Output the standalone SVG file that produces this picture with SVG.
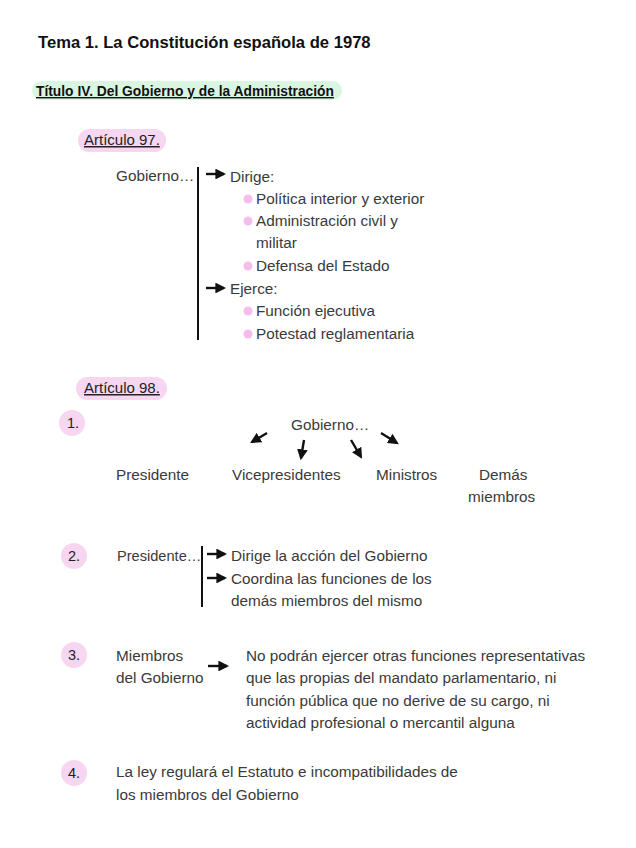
<svg xmlns="http://www.w3.org/2000/svg" width="636" height="848" viewBox="0 0 636 848">
<defs>
<marker id="ah" viewBox="0 0 10 10" refX="8" refY="5" markerWidth="4.5" markerHeight="4.5" orient="auto" markerUnits="strokeWidth">
<path d="M0,0 L10,5 L0,10 z" fill="#111"/>
</marker>
<style>
text{font-family:"Liberation Sans",Arial,sans-serif;fill:#3a3a3a;font-size:15.3px}
.title{font-weight:bold;font-size:16.6px;fill:#111}
.sub{font-weight:bold;font-size:13.8px;fill:#111;text-decoration:underline}
.art{font-size:15px;fill:#222;text-decoration:underline}
.num{font-size:14.5px;fill:#222}
.pill{fill:#f7d6f2}
.gpill{fill:#d9f6e1}
.bul{fill:#f4bdec}
.ar{stroke:#111;stroke-width:2.4;fill:none;marker-end:url(#ah)}
.vl{stroke:#111;stroke-width:2}
</style>
</defs>
<rect width="636" height="848" fill="#fff"/>

<g id="title"><text class="title" x="38" y="48">Tema 1. La Constitución española de 1978</text></g>

<g id="titulo4">
<rect class="gpill" x="32" y="81" width="310" height="19" rx="9.5"/>
<text class="sub" x="36" y="96">Título IV. Del Gobierno y de la Administración</text>
</g>

<g id="art97">
<rect class="pill" x="78" y="129" width="88" height="23" rx="11.5"/>
<text class="art" x="84" y="145">Artículo 97.</text>
</g>

<g id="gob97"><text x="116" y="181">Gobierno…</text></g>

<g id="list97">
<text x="230" y="182">Dirige:</text>
<circle class="bul" cx="248" cy="199" r="4.5"/>
<text x="256" y="204">Política interior y exterior</text>
<circle class="bul" cx="248" cy="221" r="4.5"/>
<text x="256" y="226">Administración civil y</text>
<text x="256" y="248">militar</text>
<circle class="bul" cx="248" cy="266" r="4.5"/>
<text x="256" y="271">Defensa del Estado</text>
<text x="230" y="294">Ejerce:</text>
<circle class="bul" cx="248" cy="311" r="4.5"/>
<text x="256" y="316">Función ejecutiva</text>
<circle class="bul" cx="248" cy="334" r="4.5"/>
<text x="256" y="339">Potestad reglamentaria</text>
</g>

<g id="art98">
<rect class="pill" x="76" y="377" width="91" height="23" rx="11.5"/>
<text class="art" x="84" y="393">Artículo 98.</text>
</g>

<g id="n1"><ellipse class="pill" cx="72" cy="423" rx="13" ry="13"/><text class="num" x="67" y="428">1.</text></g>
<g id="gob98"><text x="291" y="430">Gobierno…</text></g>
<g id="presidente1"><text x="116" y="480">Presidente</text></g>
<g id="vice"><text x="232" y="480">Vicepresidentes</text></g>
<g id="ministros"><text x="376" y="480">Ministros</text></g>
<g id="demas"><text x="479" y="480">Demás</text><text x="468" y="502">miembros</text></g>

<g id="n2"><ellipse class="pill" cx="74" cy="556" rx="13" ry="13"/><text class="num" x="68" y="561">2.</text></g>
<g id="presidente2"><text x="117" y="561" style="font-size:14.6px">Presidente…</text></g>
<g id="list2">
<text x="231" y="561">Dirige la acción del Gobierno</text>
<text x="231" y="584">Coordina las funciones de los</text>
<text x="231" y="606">demás miembros del mismo</text>
</g>

<g id="n3"><ellipse class="pill" cx="74" cy="655" rx="13" ry="13"/><text class="num" x="68" y="660">3.</text></g>
<g id="miembros"><text x="116" y="661">Miembros</text><text x="116" y="683">del Gobierno</text></g>
<g id="prohib">
<text x="246" y="661">No podrán ejercer otras funciones representativas</text>
<text x="246" y="683">que las propias del mandato parlamentario, ni</text>
<text x="246" y="706">función pública que no derive de su cargo, ni</text>
<text x="246" y="728">actividad profesional o mercantil alguna</text>
</g>

<g id="n4"><ellipse class="pill" cx="74" cy="773" rx="13" ry="13"/><text class="num" x="68" y="778">4.</text></g>
<g id="ley"><text x="116" y="777">La ley regulará el Estatuto e incompatibilidades de</text><text x="116" y="800">los miembros del Gobierno</text></g>

<g id="connectors">
<line class="vl" x1="198" y1="167" x2="198" y2="340"/>
<line class="ar" x1="206" y1="174" x2="224" y2="174"/>
<line class="ar" x1="206" y1="288" x2="224" y2="288"/>
<line class="ar" x1="267" y1="433" x2="252" y2="442"/>
<line class="ar" x1="304" y1="440" x2="301" y2="458"/>
<line class="ar" x1="351" y1="440" x2="361" y2="457"/>
<line class="ar" x1="381" y1="433" x2="397" y2="443"/>
<line class="vl" x1="202" y1="546" x2="202" y2="607"/>
<line class="ar" x1="207" y1="554" x2="225" y2="554"/>
<line class="ar" x1="207" y1="578" x2="225" y2="578"/>
<line class="ar" x1="208" y1="666" x2="227" y2="666"/>
</g>
</svg>
